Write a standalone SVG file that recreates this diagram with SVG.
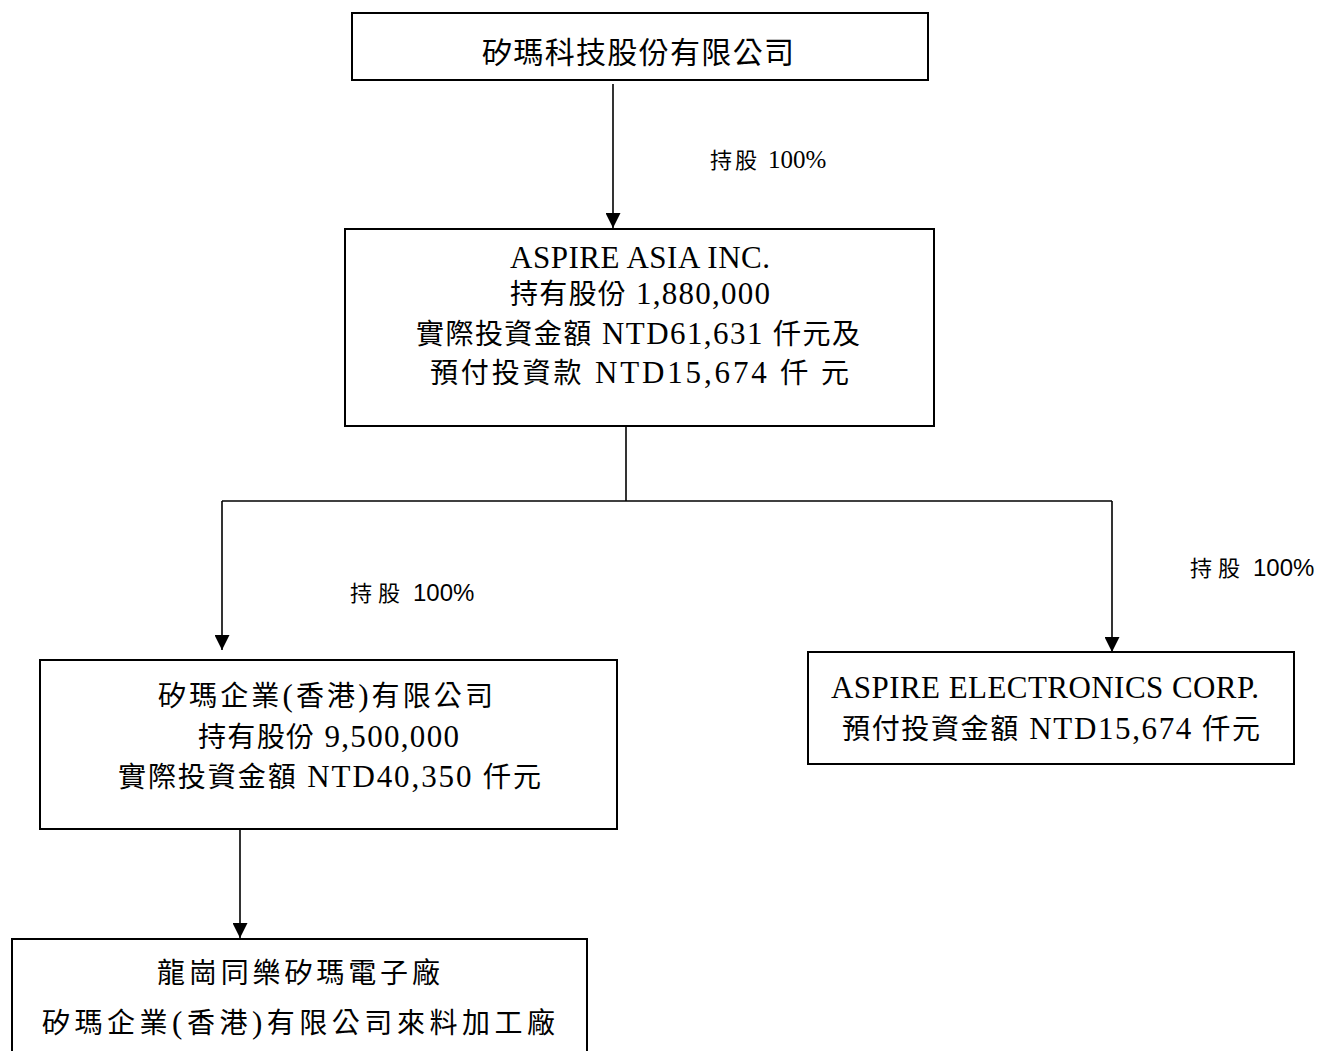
<svg xmlns="http://www.w3.org/2000/svg" width="1318" height="1051" viewBox="0 0 1318 1051">
<defs>
<style>
.box{fill:#fff;stroke:#000;stroke-width:2}
.t{font-family:"Liberation Serif","Noto Sans CJK TC",serif;font-size:28px;fill:#000}
.l{font-size:31px}
.lab{font-family:"Liberation Sans","Noto Sans CJK TC",sans-serif;font-size:24px;fill:#000}
.labs{font-family:"Liberation Serif","Noto Sans CJK TC",serif;font-size:25px;fill:#000}
.cj{font-size:22px}
.c{fill:none;stroke:#000;stroke-width:1.6}
</style>
<marker id="arr" markerUnits="userSpaceOnUse" markerWidth="15" markerHeight="15" refX="15" refY="7.5" orient="auto">
<path d="M0,0 L15,7.5 L0,15 z" fill="#000"/>
</marker>
</defs>
<rect width="1318" height="1051" fill="#fff"/>
<g id="connectors">
<line class="c" x1="613" y1="84" x2="613" y2="228" marker-end="url(#arr)"/>
<line class="c" x1="626" y1="427" x2="626" y2="501"/>
<line class="c" x1="222" y1="501" x2="1112" y2="501"/>
<line class="c" x1="222" y1="501" x2="222" y2="650" marker-end="url(#arr)"/>
<line class="c" x1="1112" y1="501" x2="1112" y2="652" marker-end="url(#arr)"/>
<line class="c" x1="240" y1="829" x2="240" y2="938" marker-end="url(#arr)"/>
<text class="labs" y="168"><tspan class="cj" x="710" textLength="47" lengthAdjust="spacing">持股</tspan><tspan x="768">100%</tspan></text>
<text class="lab" y="601"><tspan class="cj" x="350" textLength="50" lengthAdjust="spacing">持股</tspan><tspan x="413">100%</tspan></text>
<text class="lab" y="576"><tspan class="cj" x="1190" textLength="50" lengthAdjust="spacing">持股</tspan><tspan x="1253">100%</tspan></text>
</g>
<g id="node-parent">
<rect class="box" x="352" y="13" width="576" height="67"/>
<text class="t" style="font-size:30px" x="482" y="63" textLength="312" lengthAdjust="spacing">矽瑪科技股份有限公司</text>
</g>
<g id="node-aspire-asia">
<rect class="box" x="345" y="229" width="589" height="197"/>
<text class="t" x="510" y="268" textLength="260" lengthAdjust="spacing"><tspan class="l">ASPIRE ASIA INC.</tspan></text>
<text class="t" x="510" y="304" textLength="260" lengthAdjust="spacing">持有股份<tspan class="l"> 1,880,000</tspan></text>
<text class="t" x="416" y="344" textLength="444" lengthAdjust="spacing">實際投資金額<tspan class="l"> NTD61,631 </tspan>仟元及</text>
<text class="t" x="430" y="383" textLength="419" lengthAdjust="spacing">預付投資款<tspan class="l"> NTD15,674 </tspan>仟 元</text>
</g>
<g id="node-hk">
<rect class="box" x="40" y="660" width="577" height="169"/>
<text class="t" x="158" y="706" textLength="335" lengthAdjust="spacing">矽瑪企業<tspan class="l">(</tspan>香港<tspan class="l">)</tspan>有限公司</text>
<text class="t" x="198" y="747" textLength="261" lengthAdjust="spacing">持有股份<tspan class="l"> 9,500,000</tspan></text>
<text class="t" x="118" y="787" textLength="423" lengthAdjust="spacing">實際投資金額<tspan class="l"> NTD40,350 </tspan>仟元</text>
</g>
<g id="node-electronics">
<rect class="box" x="808" y="652" width="486" height="112"/>
<text class="t" x="831" y="698" textLength="428" lengthAdjust="spacing"><tspan class="l">ASPIRE ELECTRONICS CORP.</tspan></text>
<text class="t" x="842" y="739" textLength="418" lengthAdjust="spacing">預付投資金額<tspan class="l"> NTD15,674 </tspan>仟元</text>
</g>
<g id="node-factory">
<rect class="box" x="12" y="939" width="575" height="130"/>
<text class="t" x="157" y="983" textLength="283" lengthAdjust="spacing">龍崗同樂矽瑪電子廠</text>
<text class="t" x="42" y="1033" textLength="513" lengthAdjust="spacing">矽瑪企業<tspan class="l">(</tspan>香港<tspan class="l">)</tspan>有限公司來料加工廠</text>
</g>
</svg>
